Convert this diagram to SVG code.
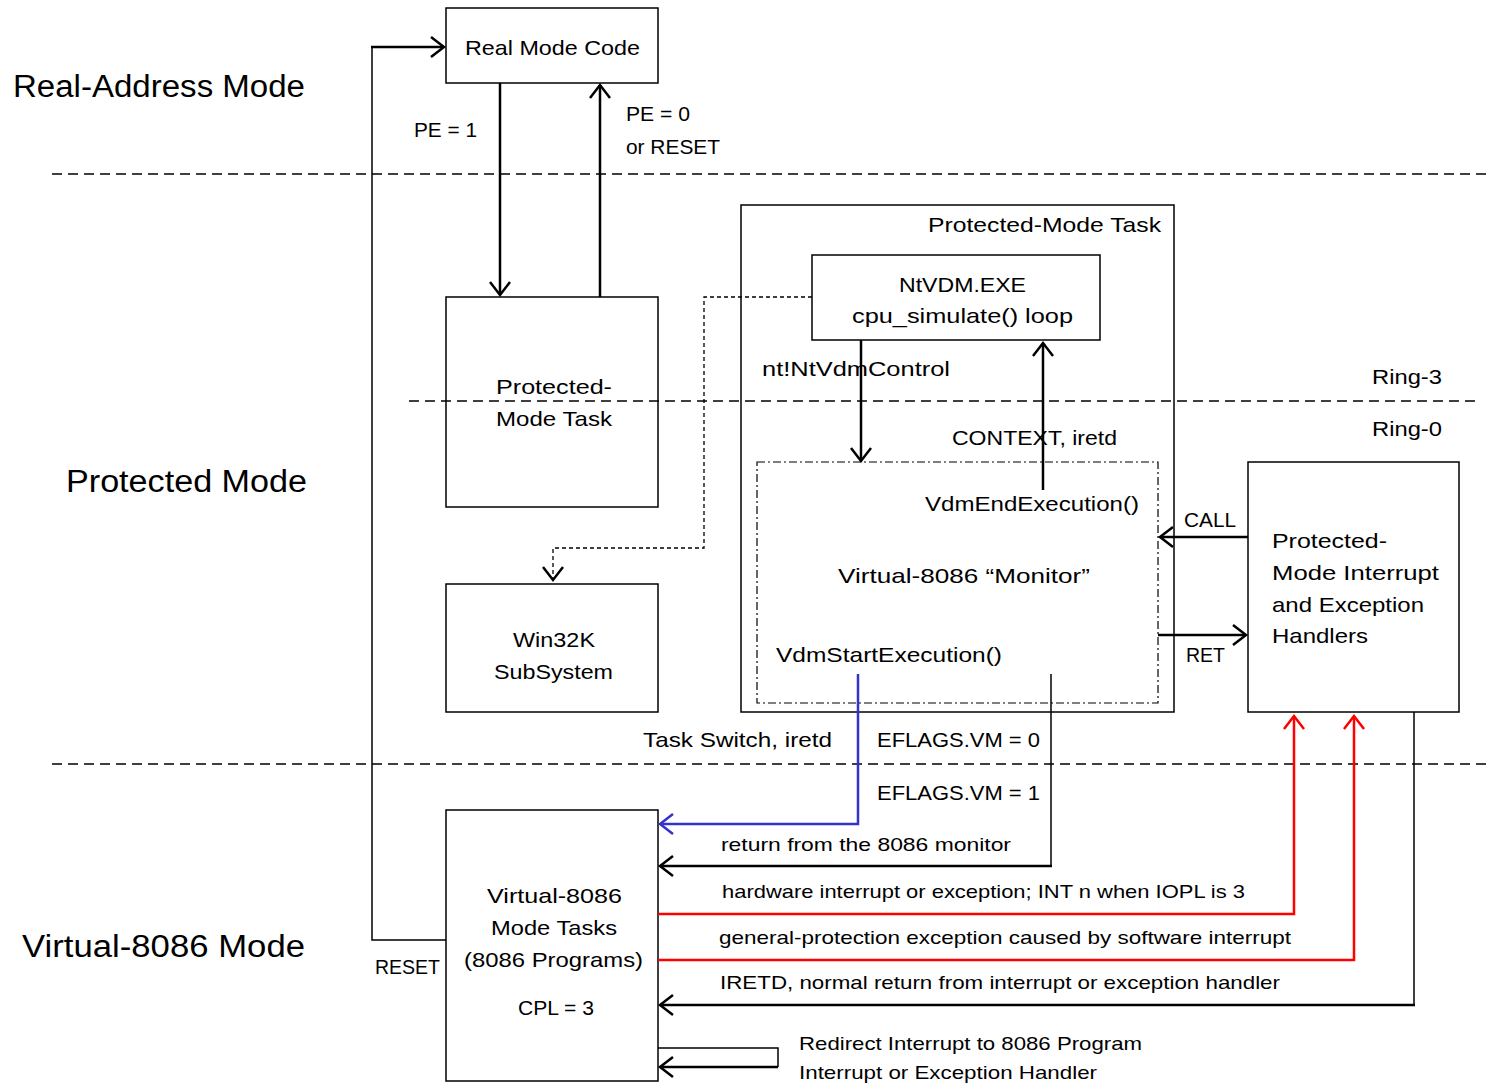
<svg xmlns="http://www.w3.org/2000/svg" width="1489" height="1084" viewBox="0 0 1489 1084">
  <style>
    text { font-family: "Liberation Sans", Arial, sans-serif; fill: #000; }
    .big { font-size: 31px; }
    .lbl { font-size: 21px; }
    .sm { font-size: 19px; }
    .box { fill: #fff; stroke: #000; stroke-width: 1.5; }
    .sep { fill: none; stroke: #000; stroke-width: 1.6; stroke-dasharray: 10 6; }
    .conn { fill: none; stroke: #000; stroke-width: 2.5; }
    .thin { fill: none; stroke: #000; stroke-width: 1.5; }
    .red { fill: none; stroke: #ff0000; stroke-width: 2.5; }
    .blue { fill: none; stroke: #3333cc; stroke-width: 2.5; }
  </style>
  <defs>
    <marker id="ah" markerUnits="userSpaceOnUse" markerWidth="22" markerHeight="24" viewBox="-16 -12 18 24" refX="0" refY="0" orient="auto" overflow="visible">
      <path d="M-13,-10 L0,0 L-13,10" fill="none" stroke="#000" stroke-width="2.5"/>
    </marker>
    <marker id="ahRed" markerUnits="userSpaceOnUse" markerWidth="22" markerHeight="24" viewBox="-16 -12 18 24" refX="0" refY="0" orient="auto" overflow="visible">
      <path d="M-13,-10 L0,0 L-13,10" fill="none" stroke="#ff0000" stroke-width="2.5"/>
    </marker>
    <marker id="ahBlue" markerUnits="userSpaceOnUse" markerWidth="22" markerHeight="24" viewBox="-16 -12 18 24" refX="0" refY="0" orient="auto" overflow="visible">
      <path d="M-13,-10 L0,0 L-13,10" fill="none" stroke="#3333cc" stroke-width="2.5"/>
    </marker>
  </defs>

  <rect width="1489" height="1084" fill="#fff"/>

  <!-- mode separators -->
  <g id="separators">
    <line class="sep" x1="52" y1="174" x2="1489" y2="174"/>
    <line class="sep" x1="409" y1="401" x2="1475" y2="401"/>
    <line class="sep" x1="52" y1="764" x2="1489" y2="764"/>
  </g>

  <!-- mode and ring labels -->
  <g id="mode-labels">
    <text class="big" x="13" y="97" textLength="292" lengthAdjust="spacingAndGlyphs">Real-Address Mode</text>
    <text class="big" x="66" y="492" textLength="241" lengthAdjust="spacingAndGlyphs">Protected Mode</text>
    <text class="big" x="22" y="957" textLength="283" lengthAdjust="spacingAndGlyphs">Virtual-8086 Mode</text>
    <text class="lbl" x="1372" y="384" textLength="70" lengthAdjust="spacingAndGlyphs">Ring-3</text>
    <text class="lbl" x="1372" y="436" textLength="70" lengthAdjust="spacingAndGlyphs">Ring-0</text>
  </g>

  <!-- nodes -->
  <g id="real-mode-code">
    <rect class="box" x="446" y="8" width="212" height="75"/>
    <text class="lbl" x="465" y="55" textLength="175" lengthAdjust="spacingAndGlyphs">Real Mode Code</text>
  </g>

  <g id="pm-task-left">
    <rect class="box" x="446" y="297" width="212" height="210" style="fill:none"/>
    <text class="lbl" x="496" y="394" textLength="116" lengthAdjust="spacingAndGlyphs">Protected-</text>
    <text class="lbl" x="496" y="426" textLength="116" lengthAdjust="spacingAndGlyphs">Mode Task</text>
  </g>

  <g id="win32k">
    <rect class="box" x="446" y="584" width="212" height="128"/>
    <text class="lbl" x="513" y="647" textLength="82" lengthAdjust="spacingAndGlyphs">Win32K</text>
    <text class="lbl" x="494" y="679" textLength="119" lengthAdjust="spacingAndGlyphs">SubSystem</text>
  </g>

  <g id="pm-task-outer">
    <rect class="box" x="741" y="205" width="433" height="507" style="fill:none"/>
    <text class="lbl" x="928" y="232" textLength="233" lengthAdjust="spacingAndGlyphs">Protected-Mode Task</text>
  </g>

  <g id="ntvdm">
    <rect class="box" x="812" y="255" width="288" height="85"/>
    <text class="lbl" x="899" y="292" textLength="127" lengthAdjust="spacingAndGlyphs">NtVDM.EXE</text>
    <text class="lbl" x="852" y="323" textLength="221" lengthAdjust="spacingAndGlyphs">cpu_simulate()  loop</text>
  </g>

  <g id="v86-monitor">
    <rect x="757" y="462" width="401" height="241" fill="none" stroke="#000" stroke-width="1.2" stroke-dasharray="8 3 2 3"/>
    <text class="lbl" x="925" y="511" textLength="214" lengthAdjust="spacingAndGlyphs">VdmEndExecution()</text>
    <text class="lbl" x="838" y="583" textLength="252" lengthAdjust="spacingAndGlyphs">Virtual-8086 “Monitor”</text>
    <text class="lbl" x="776" y="662" textLength="226" lengthAdjust="spacingAndGlyphs">VdmStartExecution()</text>
  </g>

  <g id="handlers">
    <rect class="box" x="1248" y="462" width="211" height="250"/>
    <text class="lbl" x="1272" y="548" textLength="115" lengthAdjust="spacingAndGlyphs">Protected-</text>
    <text class="lbl" x="1272" y="580" textLength="167" lengthAdjust="spacingAndGlyphs">Mode Interrupt</text>
    <text class="lbl" x="1272" y="612" textLength="152" lengthAdjust="spacingAndGlyphs">and Exception</text>
    <text class="lbl" x="1272" y="643" textLength="96" lengthAdjust="spacingAndGlyphs">Handlers</text>
  </g>

  <g id="v86-tasks">
    <rect class="box" x="446" y="810" width="212" height="271"/>
    <text class="lbl" x="487" y="903" textLength="135" lengthAdjust="spacingAndGlyphs">Virtual-8086</text>
    <text class="lbl" x="491" y="935" textLength="126" lengthAdjust="spacingAndGlyphs">Mode Tasks</text>
    <text class="lbl" x="464" y="967" textLength="179" lengthAdjust="spacingAndGlyphs">(8086 Programs)</text>
    <text class="lbl" x="518" y="1015" textLength="76" lengthAdjust="spacingAndGlyphs">CPL = 3</text>
  </g>

  <!-- connectors -->
  <g id="connectors">
    <!-- reset back to real mode -->
    <path class="thin" d="M446,940 H372 V47"/>
    <path class="conn" d="M371,47 H444" marker-end="url(#ah)"/>
    <!-- PE transitions -->
    <path class="conn" d="M500,83 V295" marker-end="url(#ah)"/>
    <path class="conn" d="M600,297 V85" marker-end="url(#ah)"/>
    <!-- NtVDM to Win32K -->
    <path d="M812,297 H704 V548 H553 V580" fill="none" stroke="#000" stroke-width="1.3" stroke-dasharray="4 3" marker-end="url(#ah)"/>
    <!-- NtVDM <-> monitor -->
    <path class="conn" d="M861,340 V461" marker-end="url(#ah)"/>
    <path class="conn" d="M1043,490 V343" marker-end="url(#ah)"/>
    <!-- CALL / RET -->
    <path class="conn" d="M1248,537 H1160" marker-end="url(#ah)"/>
    <path class="conn" d="M1158,635 H1246" marker-end="url(#ah)"/>
    <!-- monitor to V86 tasks -->
    <path class="blue" d="M858,674 V824 H660" marker-end="url(#ahBlue)"/>
    <path class="thin" d="M1051,674 V866"/>
    <path class="conn" d="M1052,866 H660" marker-end="url(#ah)"/>
    <!-- V86 tasks to handlers -->
    <path class="red" d="M658,914 H1294 V716" marker-end="url(#ahRed)"/>
    <path class="red" d="M658,960 H1354 V716" marker-end="url(#ahRed)"/>
    <!-- handlers back to V86 tasks -->
    <path class="thin" d="M1414,712 V1005"/>
    <path class="conn" d="M1415,1005 H660" marker-end="url(#ah)"/>
    <!-- redirect loop -->
    <path class="thin" d="M658,1048 H778 V1067"/>
    <path class="conn" d="M778,1067 H660" marker-end="url(#ah)"/>
  </g>

  <!-- connector labels -->
  <g id="connector-labels">
    <text class="lbl" x="414" y="137" textLength="63" lengthAdjust="spacingAndGlyphs">PE = 1</text>
    <text class="lbl" x="626" y="121" textLength="64" lengthAdjust="spacingAndGlyphs">PE = 0</text>
    <text class="lbl" x="626" y="154" textLength="94" lengthAdjust="spacingAndGlyphs">or RESET</text>
    <text class="lbl" x="375" y="974" textLength="65" lengthAdjust="spacingAndGlyphs">RESET</text>
    <text class="lbl" x="762" y="376" textLength="188" lengthAdjust="spacingAndGlyphs">nt!NtVdmControl</text>
    <text class="lbl" x="952" y="445" textLength="165" lengthAdjust="spacingAndGlyphs">CONTEXT, iretd</text>
    <text class="lbl" x="1184" y="527" textLength="52" lengthAdjust="spacingAndGlyphs">CALL</text>
    <text class="lbl" x="1186" y="662" textLength="39" lengthAdjust="spacingAndGlyphs">RET</text>
    <text class="lbl" x="643" y="747" textLength="189" lengthAdjust="spacingAndGlyphs">Task Switch, iretd</text>
    <text class="lbl" x="877" y="747" textLength="163" lengthAdjust="spacingAndGlyphs">EFLAGS.VM = 0</text>
    <text class="lbl" x="877" y="800" textLength="163" lengthAdjust="spacingAndGlyphs">EFLAGS.VM = 1</text>
    <text class="sm" x="721" y="851" textLength="290" lengthAdjust="spacingAndGlyphs">return from the 8086 monitor</text>
    <text class="sm" x="722" y="898" textLength="523" lengthAdjust="spacingAndGlyphs">hardware interrupt or exception; INT n when IOPL is 3</text>
    <text class="sm" x="719" y="944" textLength="572" lengthAdjust="spacingAndGlyphs">general-protection exception caused by software interrupt</text>
    <text class="sm" x="720" y="989" textLength="560" lengthAdjust="spacingAndGlyphs">IRETD, normal return from interrupt or exception handler</text>
    <text class="sm" x="799" y="1050" textLength="343" lengthAdjust="spacingAndGlyphs">Redirect Interrupt to 8086 Program</text>
    <text class="sm" x="799" y="1079" textLength="298" lengthAdjust="spacingAndGlyphs">Interrupt or Exception Handler</text>
  </g>
</svg>
